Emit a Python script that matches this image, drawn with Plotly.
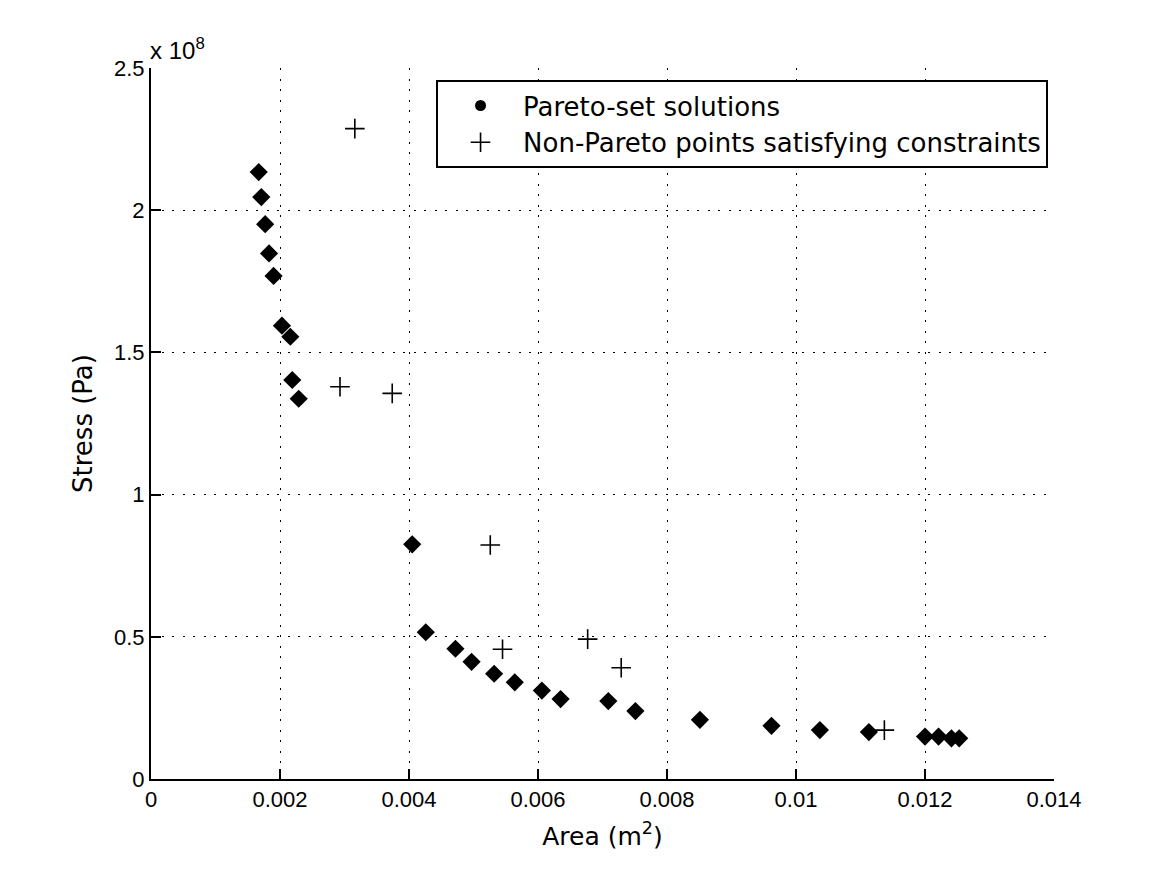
import plotly.graph_objects as go

# Pareto-set solutions (Area in m^2, Stress in Pa)
pareto_area = [0.00167, 0.00171, 0.00177, 0.00183, 0.00190, 0.00203, 0.00216, 0.00219, 0.00229,
               0.00405, 0.00426, 0.00472, 0.00497, 0.00532, 0.00564, 0.00606, 0.00635, 0.00709,
               0.00751, 0.00851, 0.00962, 0.01037, 0.01113, 0.01200, 0.01221, 0.01241, 0.01253]
pareto_stress = [2.134e8, 2.046e8, 1.951e8, 1.848e8, 1.769e8, 1.594e8, 1.555e8, 1.403e8, 1.337e8,
                 0.825e8, 0.516e8, 0.458e8, 0.412e8, 0.370e8, 0.340e8, 0.311e8, 0.281e8, 0.274e8,
                 0.239e8, 0.208e8, 0.187e8, 0.172e8, 0.165e8, 0.149e8, 0.149e8, 0.143e8, 0.143e8]

# Non-Pareto points satisfying constraints
nonpareto_area = [0.00316, 0.00293, 0.00374, 0.00526, 0.00545, 0.00677, 0.00729, 0.01137]
nonpareto_stress = [2.287e8, 1.379e8, 1.356e8, 0.823e8, 0.456e8, 0.492e8, 0.391e8, 0.172e8]

x_ticks = [0, 0.002, 0.004, 0.006, 0.008, 0.01, 0.012, 0.014]
x_ticktext = ["0", "0.002", "0.004", "0.006", "0.008", "0.01", "0.012", "0.014"]
y_ticks = [0, 0.5e8, 1e8, 1.5e8, 2e8, 2.5e8]
y_ticktext = ["0", "0.5", "1", "1.5", "2", "2.5"]

tick_font = "Liberation Sans, Arial, sans-serif"
label_font = "DejaVu Sans, sans-serif"

fig = go.Figure()

# data traces
fig.add_trace(go.Scatter(
    x=pareto_area, y=pareto_stress, mode="markers",
    marker=dict(symbol="diamond", size=14, color="black"),
    showlegend=False, name="Pareto-set solutions"))
fig.add_trace(go.Scatter(
    x=nonpareto_area, y=nonpareto_stress, mode="markers",
    marker=dict(symbol="cross-thin", size=14, color="black",
                line=dict(color="black", width=1.6)),
    showlegend=False, name="Non-Pareto points satisfying constraints"))

# legend entries
fig.add_trace(go.Scatter(
    x=[None], y=[None], mode="markers",
    marker=dict(symbol="circle", size=11, color="black"),
    name="Pareto-set solutions"))
fig.add_trace(go.Scatter(
    x=[None], y=[None], mode="markers",
    marker=dict(symbol="cross-thin", size=14, color="black",
                line=dict(color="black", width=1.6)),
    name="Non-Pareto points satisfying constraints"))

axis_common = dict(
    showline=True, linecolor="black", linewidth=2,
    ticks="inside", ticklen=10, tickwidth=2, tickcolor="black",
    showgrid=True, gridcolor="black", gridwidth=1, griddash="2px,8.5px",
    zeroline=False, mirror=False,
    tickfont=dict(family=tick_font, size=22, color="black"),
)

fig.update_layout(
    width=1158, height=867,
    margin=dict(l=143, r=112, t=60, b=96),
    paper_bgcolor="white", plot_bgcolor="white",
    xaxis=dict(range=[0, 0.014], tickvals=x_ticks, ticktext=x_ticktext,
               title=dict(text="Area (m<sup>2</sup>)", standoff=16,
                          font=dict(family=label_font, size=25, color="black")),
               **axis_common),
    yaxis=dict(range=[0, 2.5e8], tickvals=y_ticks, ticktext=y_ticktext,
               title=dict(text="Stress (Pa)", standoff=14,
                          font=dict(family=label_font, size=26, color="black")),
               **axis_common),
    legend=dict(x=0.9934, y=0.983, xanchor="right", yanchor="top",
                bgcolor="white", bordercolor="black", borderwidth=2,
                font=dict(family=label_font, size=26, color="black"),
                itemwidth=75),
    annotations=[dict(text="x 10<sup>8</sup>", xref="paper", yref="paper",
                      x=0, y=1, xanchor="left", yanchor="bottom", showarrow=False,
                      yshift=2, xshift=-3,
                      font=dict(family=tick_font, size=24, color="black"))],
)

fig.write_html("out.html")
